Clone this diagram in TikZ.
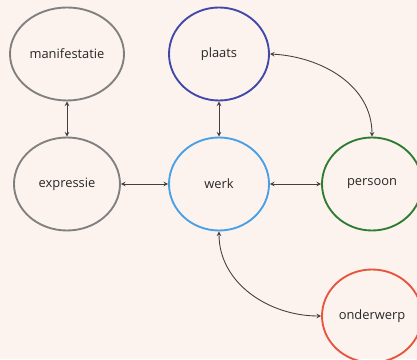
\documentclass[tikz,border=0pt]{standalone}
\usepackage{fontspec}
\setmainfont{Open Sans}
\usepackage{xcolor}
\usepackage{tikz}
\usetikzlibrary{shapes.geometric}
\tikzset{>=stealth}

\definecolor{bgpink}{RGB}{252,243,239}
\definecolor{greyline}{RGB}{128,128,128}
\definecolor{plaatsblue}{RGB}{64,72,170}
\definecolor{werkblue}{RGB}{72,160,230}
\definecolor{persoongreen}{RGB}{46,125,50}
\definecolor{onderwerpred}{RGB}{230,85,62}
\definecolor{textgrey}{RGB}{40,40,40}

\tikzset{
  entity/.style={ellipse, draw, line width=1.6pt, inner sep=0pt, minimum width=3cm, minimum height=2.79cm,
    text=textgrey, font=\fontsize{11}{13}\selectfont},
  link/.style={<->, line width=0.75pt, draw=black!75}
}

\begin{document}
\begin{tikzpicture}

      % background
      \fill[bgpink] (0,0) rectangle (12.51,10.77);
      \useasboundingbox (0,0) rectangle (12.51,10.77);

      % the six entities
      \node[entity, draw=greyline, minimum width=3.42cm] (manifestatie) at (2.01, 9.15) {manifestatie};
      \node[entity, draw=greyline, minimum width=3.18cm] (expressie) at (2.01, 5.25) {expressie};
      \node[entity, draw=plaatsblue] (plaats) at (6.57, 9.15) {plaats};
      \node[entity, draw=werkblue] (werk) at (6.57, 5.25) {werk};
      \node[entity, draw=persoongreen] (persoon) at (11.16, 5.25) {persoon};
      \node[entity, draw=onderwerpred] (onderwerp) at (11.16, 1.29) {onderwerp};

      % straight links
      \draw[link] (manifestatie) -- (expressie);
      \draw[link] (plaats) -- (werk);
      \draw[link] (expressie) -- (werk);
      \draw[link] (werk) -- (persoon);

      % curved links
      \draw[link] (plaats.east) to[out=-3, in=90] (persoon.north);
      \draw[link] (werk.south) to[out=-90, in=180] (onderwerp.west);

\end{tikzpicture}
\end{document}
